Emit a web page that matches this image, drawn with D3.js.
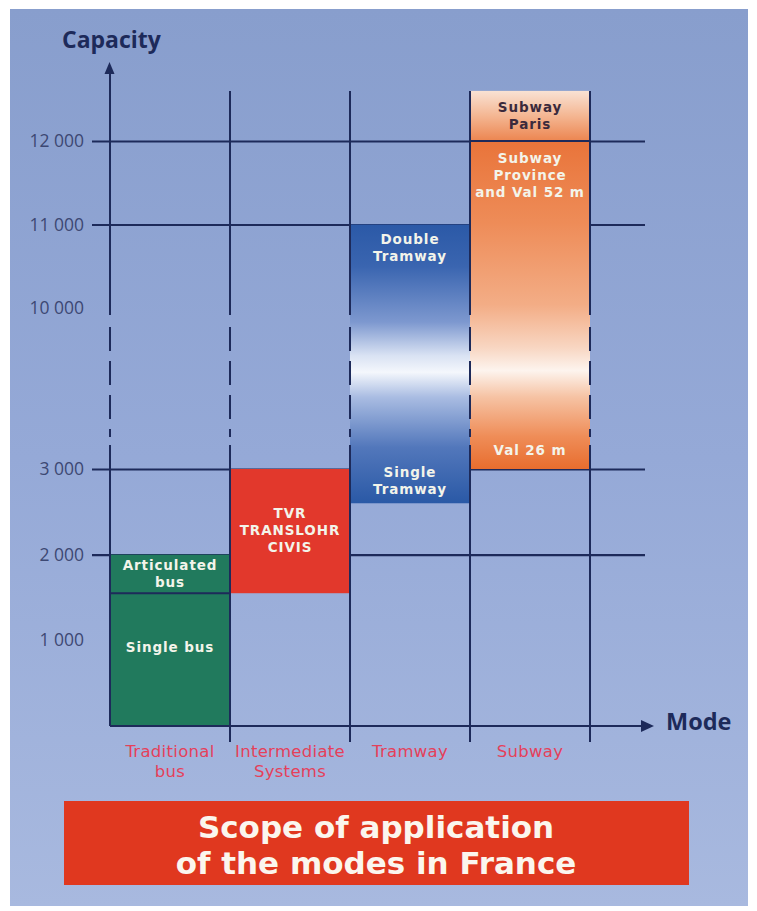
<!DOCTYPE html>
<html>
<head>
<meta charset="utf-8">
<script src="https://cdn.jsdelivr.net/npm/d3@7"></script>
<style>
  body { margin: 0; background: #fff; }
  svg { display: block; font-family: "Open Sans", "DejaVu Sans", sans-serif; }
</style>
</head>
<body>
<div id="app"></div>
<script>
// data
const categories = ["Traditional bus", "Intermediate Systems", "Tramway", "Subway"];
const categoryLines = [["Traditional", "bus"], ["Intermediate", "Systems"], ["Tramway"], ["Subway"]];
const tickValues = [1000, 2000, 3000, 10000, 11000, 12000];
const gridValues = [2000, 3000, 11000, 12000];

// capacity ranges per mode
const segments = [
    { cat: "Traditional bus", from: 0, to: 1550, fill: "bus" },
    { cat: "Traditional bus", from: 1550, to: 2000, fill: "bus" },
    { cat: "Intermediate Systems", from: 1550, to: 3000, fill: "tvr" },
    { cat: "Tramway", from: 2600, to: 11000, fill: "tram" },
    { cat: "Subway", from: 3000, to: 12000, fill: "subway" },
    { cat: "Subway", from: 12000, to: 12600, fill: "paris" }
];
// borders drawn between two stacked segments
const dividers = [
    { cat: "Traditional bus", at: 1550 },
    { cat: "Subway", at: 12000 }
];

const boxLabels = [
    { cat: "Traditional bus", at: 1775, lines: ["Articulated", "bus"], dark: false },
    { cat: "Traditional bus", at: 920, lines: ["Single bus"], dark: false },
    { cat: "Intermediate Systems", at: 2290, lines: ["TVR", "TRANSLOHR", "CIVIS"], dark: false },
    { cat: "Tramway", at: 10730, lines: ["Double", "Tramway"], dark: false },
    { cat: "Tramway", at: 2870, lines: ["Single", "Tramway"], dark: false },
    { cat: "Subway", at: 12300, lines: ["Subway", "Paris"], dark: true },
    { cat: "Subway", at: 11590, lines: ["Subway", "Province", "and Val 52 m"], dark: false },
    { cat: "Subway", at: 3830, lines: ["Val 26 m"], dark: false }
];

// axis break (values drawn dashed)
const breakFrom = 4040, breakTo = 9700;

const W = 757, H = 911;
const navy = "#1d2a5a";

const svg = d3.select("#app").append("svg")
    .attr("width", W)
    .attr("height", H);

const defs = svg.append("defs");

function gradient(id, stops) {
    const g = defs.append("linearGradient")
        .attr("id", id)
        .attr("x1", 0).attr("y1", 0)
        .attr("x2", 0).attr("y2", 1);
    g.selectAll("stop")
        .data(stops)
        .join("stop")
        .attr("offset", d => d[0])
        .attr("stop-color", d => d[1]);
}

gradient("bg", [[0, "#889ecd"], [0.5, "#95a9d7"], [1, "#a8b9df"]]);
gradient("tram", [[0, "#2b59a7"], [0.15, "#3a65b0"], [0.35, "#7d98cf"], [0.47, "#d9e2f3"], [0.53, "#f4f7fc"], [0.62, "#a9bce2"], [0.8, "#5277bb"], [1, "#2a59a6"]]);
gradient("subway", [[0, "#e9743a"], [0.25, "#ee8c58"], [0.5, "#f3ad86"], [0.63, "#f8d6c2"], [0.7, "#fdf4ee"], [0.78, "#f6c3a4"], [0.9, "#ef8d58"], [1, "#e86d2e"]]);
gradient("paris", [[0, "#f9e2d4"], [0.5, "#f4b692"], [1, "#ec8550"]]);

const fills = {
    bus: "#217a5d",
    tvr: "#e2382c",
    tram: "url(#tram)",
    subway: "url(#subway)",
    paris: "url(#paris)"
};

// background panel
svg.append("rect")
    .attr("x", 10).attr("y", 9)
    .attr("width", 738).attr("height", 897)
    .attr("fill", "url(#bg)");

// scales: piecewise to show the 3 000 -> 10 000 gap
const y = d3.scaleLinear()
    .domain([0, 3000, 10000, 12000])
    .range([726, 469, 308, 141]);

const x = d3.scaleBand()
    .domain(categories)
    .range([110, 590])
    .paddingInner(0)
    .paddingOuter(0);

const fmt = d3.formatLocale({ decimal: ".", thousands: " ", grouping: [3], currency: ["", ""] }).format(",");

// grid lines (under the bars)
const gridLeft = 92, gridRight = 645;
svg.append("g")
    .attr("transform", `translate(${gridLeft},0)`)
    .call(d3.axisLeft(y).tickValues(gridValues).tickSize(-(gridRight - gridLeft)).tickFormat(""))
    .call(g => g.select(".domain").remove())
    .call(g => g.selectAll(".tick line").attr("stroke", navy).attr("stroke-width", 2.2));

// bars
svg.append("g")
    .selectAll("rect")
    .data(segments)
    .join("rect")
    .attr("x", d => x(d.cat))
    .attr("y", d => y(d.to))
    .attr("width", x.bandwidth())
    .attr("height", d => y(d.from) - y(d.to))
    .attr("fill", d => fills[d.fill]);

svg.append("g")
    .selectAll("line")
    .data(dividers)
    .join("line")
    .attr("x1", d => x(d.cat))
    .attr("x2", d => x(d.cat) + x.bandwidth())
    .attr("y1", d => y(d.at))
    .attr("y2", d => y(d.at))
    .attr("stroke", navy)
    .attr("stroke-width", 2);

// vertical lines with dashed break
const edges = categories.map(c => x(c)).concat([x.range()[1]]);
const topY = y(12600);
const vlines = svg.append("g").attr("stroke", navy).attr("stroke-width", 2);

edges.forEach((ex, i) => {
    const y0 = i === 0 ? 68 : topY;
    const y1 = i === 0 ? y(0) : 742;
    const gtop = y(breakTo), gbot = y(breakFrom);
    vlines.append("line").attr("x1", ex).attr("x2", ex).attr("y1", y0).attr("y2", gtop);
    vlines.append("line").attr("x1", ex).attr("x2", ex)
        .attr("y1", gtop + 12).attr("y2", gbot - 8)
        .attr("stroke-dasharray", "24,10");
    vlines.append("line").attr("x1", ex).attr("x2", ex).attr("y1", gbot).attr("y2", y1);
});

// x baseline with arrow, y arrow head
svg.append("line")
    .attr("x1", 110).attr("x2", 645)
    .attr("y1", y(0)).attr("y2", y(0))
    .attr("stroke", navy).attr("stroke-width", 2.2);
svg.append("path")
    .attr("d", `M641,${y(0) - 6}L654,${y(0)}L641,${y(0) + 6}Z`)
    .attr("fill", navy);
svg.append("path")
    .attr("d", "M104.5,74L109.5,62L114.5,74Z")
    .attr("fill", navy);

// tick labels
svg.append("g")
    .attr("transform", "translate(86,0)")
    .call(d3.axisLeft(y).tickValues(tickValues).tickSize(0).tickPadding(2).tickFormat(fmt))
    .call(g => g.select(".domain").remove())
    .call(g => g.selectAll("text")
        .attr("fill", "#3d4873")
        .style("font-size", "17.5px")
        .style("font-family", "'Open Sans', sans-serif"));

// axis titles
svg.append("text")
    .attr("x", 62).attr("y", 48)
    .attr("fill", navy)
    .style("font-size", "23px").style("font-weight", 700)
    .text("Capacity");

svg.append("text")
    .attr("x", 666).attr("y", y(0) + 4)
    .attr("fill", navy)
    .style("font-size", "23.5px").style("font-weight", 700)
    .text("Mode");

// category labels
const catG = svg.append("g")
    .selectAll("text")
    .data(categories)
    .join("text")
    .attr("x", d => x(d) + x.bandwidth() / 2)
    .attr("y", 757)
    .attr("text-anchor", "middle")
    .attr("fill", "#e5405a")
    .style("font-family", "'DejaVu Sans', sans-serif")
    .style("font-size", "16.5px")
    .style("letter-spacing", "0.3px");

catG.selectAll("tspan")
    .data((d, i) => categoryLines[i])
    .join("tspan")
    .attr("x", function () { return this.parentNode.getAttribute("x"); })
    .attr("dy", (d, i) => i === 0 ? 0 : 19.5)
    .text(d => d);

// labels inside bars
const lblG = svg.append("g")
    .selectAll("text")
    .data(boxLabels)
    .join("text")
    .attr("x", d => x(d.cat) + x.bandwidth() / 2)
    .attr("y", d => y(d.at) - (d.lines.length - 1) * 8.5 + 5)
    .attr("text-anchor", "middle")
    .attr("fill", d => d.dark ? "#3b2a3c" : "#f3f4ea")
    .style("font-family", "'DejaVu Sans', sans-serif")
    .style("font-size", "13.5px")
    .style("font-weight", 700)
    .style("letter-spacing", "0.9px");

lblG.selectAll("tspan")
    .data(d => d.lines)
    .join("tspan")
    .attr("x", function () { return this.parentNode.getAttribute("x"); })
    .attr("dy", (d, i) => i === 0 ? 0 : 17)
    .text(d => d);

// title box
svg.append("rect")
    .attr("x", 64).attr("y", 801)
    .attr("width", 625).attr("height", 84)
    .attr("fill", "#e0381f");

svg.append("text")
    .attr("x", 376).attr("y", 838)
    .attr("text-anchor", "middle")
    .attr("fill", "#fbf6ee")
    .style("font-family", "'DejaVu Sans', sans-serif")
    .style("font-size", "31px").style("font-weight", 700)
    .selectAll("tspan")
    .data(["Scope of application", "of the modes in France"])
    .join("tspan")
    .attr("x", 376)
    .attr("dy", (d, i) => i === 0 ? 0 : 36)
    .text(d => d);
</script>
</body>
</html>
